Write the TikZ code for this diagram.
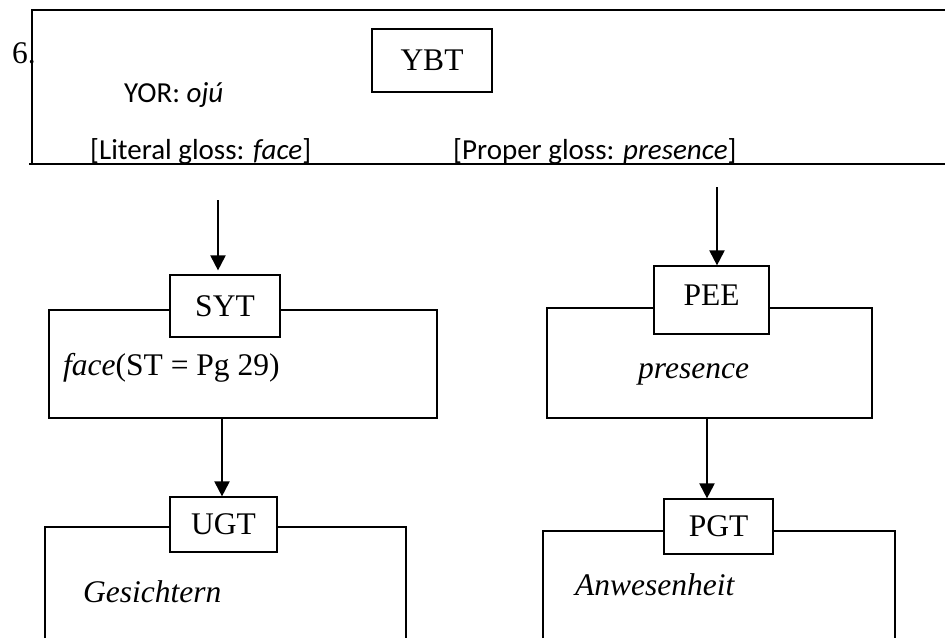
\documentclass[tikz,border=0pt]{standalone}
\usepackage{fontspec}
\setmainfont{Liberation Serif}
\newfontfamily\glossfont{Carlito}
\usetikzlibrary{arrows.meta}
\tikzset{
  tagbox/.style={draw, line width=1.2pt, fill=white, inner sep=0pt, font=\fontsize{31.5}{36}\selectfont},
  frame/.style={line width=1.8pt},
  flow/.style={line width=2pt, -{Triangle[length=15pt,width=15pt]}},
  entry/.style={anchor=base west, inner sep=0pt, font=\fontsize{31.5}{36}\selectfont},
  gloss/.style={anchor=base west, inner sep=0pt, font=\glossfont\fontsize{29}{34}\selectfont}
}

\begin{document}
\begin{tikzpicture}[x=1pt, y=-1pt]
      \useasboundingbox (0, 0) rectangle (945, 638);

      % source frame
      \draw [frame] (945, 10) -- (32, 10) -- (32, 165);
      \draw [frame] (29, 164) -- (945, 164);
      \node [entry] (num) at (12, 63) {6.};
      \node [tagbox, minimum width=120, minimum height=63] (ybt) at (432, 60.5) {YBT};
      \node [gloss] (yor) at (124, 102) {YOR: \textit{ojú}};
      \node [gloss] (litgloss) at (90, 159) {[Literal gloss: \textit{face}]};
      \node [gloss] (propgloss) at (453, 159) {[Proper gloss: \textit{presence}]};

      % middle boxes
      \draw [frame] (49, 310) rectangle (437, 418);
      \draw [frame] (547, 308) rectangle (872, 418);
      \node [tagbox, minimum width=110, minimum height=62] (syt) at (225, 306) {SYT};
      \node [tagbox, minimum width=115, minimum height=68, text depth=9pt] (pee) at (711.5, 300) {PEE};
      \node [entry] (st) at (63, 375) {\textit{face}(ST = Pg 29)};
      \node [entry] (pe) at (638, 378) {\textit{presence}};

      % bottom boxes
      \draw [frame] (45, 638) -- (45, 527) -- (406, 527) -- (406, 638);
      \draw [frame] (543, 638) -- (543, 531) -- (895, 531) -- (895, 638);
      \node [tagbox, minimum width=107, minimum height=55] (ugt) at (223.5, 524.5) {UGT};
      \node [tagbox, minimum width=109, minimum height=55] (pgt) at (718.5, 526.5) {PGT};
      \node [entry] (ug) at (83, 602) {\textit{Gesichtern}};
      \node [entry] (pg) at (575, 595) {\textit{Anwesenheit}};

      \coordinate (litin) at (218, 200);
      \coordinate (propin) at (717, 187);
      \coordinate (litout) at (222, 418);
      \coordinate (propout) at (707, 418);
      \draw [flow] (litin) -- ([yshift=4]litin |- syt.north);
      \draw [flow] (propin) -- (propin |- pee.north);
      \draw [flow] (litout) -- (litout |- ugt.north);
      \draw [flow] (propout) -- (propout |- pgt.north);
    \end{tikzpicture}
\end{document}
